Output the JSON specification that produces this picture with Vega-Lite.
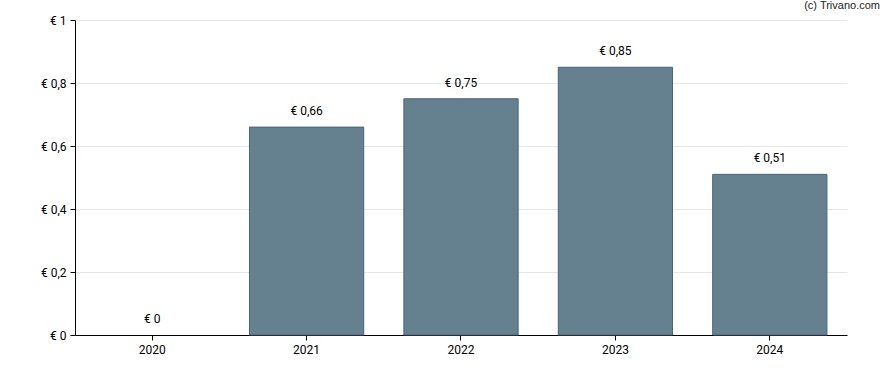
{
  "$schema": "https://vega.github.io/schema/vega-lite/v6.json",
  "width": 772,
  "height": 315,
  "autosize": {"type": "none"},
  "padding": {"left": 75, "top": 20, "right": 41, "bottom": 35},
  "background": "white",
  "title": {"text": "(c) Trivano.com", "anchor": "end", "frame": "group", "fontSize": 11, "font": "Liberation Sans", "fontWeight": "normal", "color": "#222", "dx": 33, "dy": 8, "offset": 5, "baseline": "middle"},
  "config": {"view": {"stroke": null}, "font": "Roboto"},
  "data": {"values": [
    {"year": "2020", "value": 0},
    {"year": "2021", "value": 0.66},
    {"year": "2022", "value": 0.75},
    {"year": "2023", "value": 0.85},
    {"year": "2024", "value": 0.51}
  ]},
  "encoding": {
    "x": {"field": "year", "type": "nominal", "title": null,
      "scale": {"paddingInner": 0.26, "paddingOuter": 0.13},
      "axis": {"labelAngle": 0, "domainColor": "#000", "tickColor": "#000", "tickSize": 5, "labelFontSize": 12, "labelColor": "#000", "labelPadding": 4, "labelFont": "Roboto"}},
    "y": {"field": "value", "type": "quantitative", "title": null,
      "scale": {"domain": [0, 1]},
      "axis": {"values": [0, 0.2, 0.4, 0.6, 0.8, 1], "labelExpr": "'€ ' + replace(format(datum.value, '~g'), '.', ',')", "domainColor": "#000", "tickColor": "#000", "tickSize": 5, "gridColor": "#e6e6e6", "labelFontSize": 12, "labelColor": "#000", "labelPadding": 4, "labelFont": "Roboto"}}
  },
  "layer": [
    {"mark": {"type": "bar", "fill": "#65808f", "stroke": "#4a6576", "strokeWidth": 1},
     "encoding": {"strokeOpacity": {"condition": {"test": "datum.value == 0", "value": 0}, "value": 1}}},
    {"transform": [{"calculate": "'€ ' + replace(format(datum.value, '~g'), '.', ',')", "as": "label"}],
     "mark": {"type": "text", "baseline": "alphabetic", "dy": -12, "fontSize": 12, "color": "#000", "font": "Roboto"},
     "encoding": {"text": {"field": "label"}}}
  ]
}
